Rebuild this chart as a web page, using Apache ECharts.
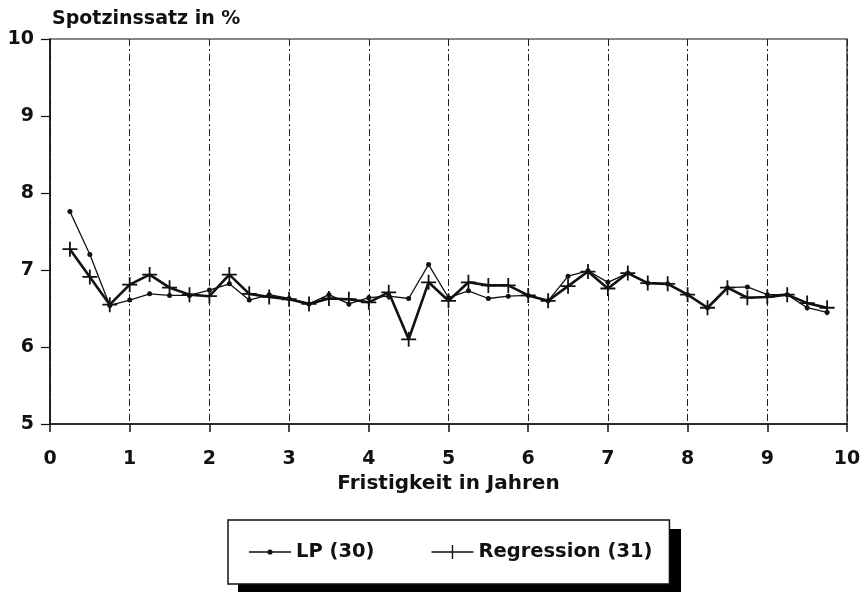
<!DOCTYPE html>
<html>
<head>
<meta charset="utf-8">
<script src="https://cdn.jsdelivr.net/npm/echarts@6/dist/echarts.min.js"></script>
<style>
  html, body { margin: 0; padding: 0; background: #fff; }
  #chart { width: 867px; height: 592px; }
</style>
</head>
<body>
<div id="chart"></div>
<script>
// Fristigkeit in Jahren
var maturities = [0.25, 0.5, 0.75, 1, 1.25, 1.5, 1.75, 2, 2.25, 2.5, 2.75, 3, 3.25,
  3.5, 3.75, 4, 4.25, 4.5, 4.75, 5, 5.25, 5.5, 5.75, 6, 6.25, 6.5, 6.75,
  7, 7.25, 7.5, 7.75, 8, 8.25, 8.5, 8.75, 9, 9.25, 9.5, 9.75];

// Spotzinssatz in %, LP (30)
var lpRates = [7.76, 7.20, 6.54, 6.61, 6.69, 6.67, 6.67, 6.74, 6.82, 6.61, 6.68, 6.63, 6.56,
  6.68, 6.56, 6.64, 6.66, 6.63, 7.07, 6.64, 6.73, 6.63, 6.66, 6.67, 6.60, 6.92, 6.99,
  6.84, 6.96, 6.83, 6.82, 6.68, 6.51, 6.77, 6.78, 6.68, 6.68, 6.51, 6.45];

// Spotzinssatz in %, Regression (31)
var regRates = [7.27, 6.91, 6.55, 6.81, 6.94, 6.77, 6.68, 6.66, 6.94, 6.69, 6.65, 6.62, 6.56,
  6.63, 6.62, 6.58, 6.71, 6.10, 6.84, 6.60, 6.84, 6.80, 6.80, 6.67, 6.60, 6.79, 6.98,
  6.76, 6.96, 6.83, 6.82, 6.68, 6.51, 6.77, 6.64, 6.65, 6.68, 6.57, 6.51];

var seriesNames = ['LP (30)', 'Regression (31)'];

function pairs(xs, ys) {
  return xs.map(function (x, i) { return [x, ys[i]]; });
}

var ink = '#111';
var font = 'DejaVu Sans';
var plusSymbol = 'path://M-0.12,-1H0.12V-0.12H1V0.12H0.12V1H-0.12V0.12H-1V-0.12H-0.12Z';
var lpIcon = 'path://M0,0M42,14M0,6.3H18.6V7.7H0Z M23.4,6.3H42V7.7H23.4Z M23.6,7A2.6,2.6 0 1 1 18.4,7A2.6,2.6 0 1 1 23.6,7Z';
var regIcon = 'path://M0,6.3H20.3V0H21.7V6.3H42V7.7H21.7V14H20.3V7.7H0Z';

var chart = echarts.init(document.getElementById('chart'));
var option = {
  backgroundColor: '#fff',
  animation: false,
  title: {
    text: 'Spotzinssatz in %',
    left: 47,
    top: 5,
    textStyle: { fontFamily: font, fontWeight: 'bold', fontSize: 19, color: ink }
  },
  // drop shadow behind the legend box
  graphic: [{
    type: 'rect',
    left: 238, top: 529,
    shape: { width: 443, height: 63 },
    style: { fill: '#000' },
    z: 0
  }],
  grid: {
    left: 50, right: 20, top: 39, bottom: 168,
    show: true, borderColor: ink, borderWidth: 1.2, backgroundColor: 'transparent'
  },
  legend: {
    left: 228,
    top: 520,
    orient: 'horizontal',
    padding: [22, 17, 22, 21],
    itemWidth: 42,
    itemHeight: 14,
    itemGap: 57,
    backgroundColor: '#fff',
    borderColor: ink,
    borderWidth: 1.5,
    z: 5,
    textStyle: { fontFamily: font, fontWeight: 'bold', fontSize: 19.5, color: ink },
    data: [
      { name: seriesNames[0], icon: lpIcon },
      { name: seriesNames[1], icon: regIcon }
    ]
  },
  xAxis: {
    type: 'value',
    min: 0, max: 10, interval: 1,
    name: 'Fristigkeit in Jahren',
    nameLocation: 'middle',
    nameGap: 48,
    nameTextStyle: { fontFamily: font, fontWeight: 'bold', fontSize: 20, color: ink },
    axisLine: { show: true, lineStyle: { color: ink, width: 1.5 } },
    axisTick: { show: true, length: 8, lineStyle: { color: ink, width: 1.5 } },
    axisLabel: { margin: 26, fontFamily: font, fontWeight: 'bold', fontSize: 19, color: ink },
    splitLine: { show: true, lineStyle: { color: '#222', width: 1, type: [7, 3, 2, 3] } }
  },
  yAxis: {
    type: 'value',
    min: 5, max: 10, interval: 1,
    axisLine: { show: true, lineStyle: { color: ink, width: 1.5 } },
    axisTick: { show: true, length: 9, lineStyle: { color: ink, width: 1.2 } },
    axisLabel: { margin: 16, fontFamily: font, fontWeight: 'bold', fontSize: 19, color: ink },
    splitLine: { show: false }
  },
  series: [
    {
      name: seriesNames[0],
      type: 'line',
      data: pairs(maturities, lpRates),
      symbol: 'circle',
      symbolSize: 5,
      itemStyle: { color: ink, borderWidth: 0 },
      lineStyle: { color: ink, width: 1.3 },
      z: 3
    },
    {
      name: seriesNames[1],
      type: 'line',
      data: pairs(maturities, regRates),
      symbol: plusSymbol,
      symbolSize: 15,
      itemStyle: { color: ink, borderWidth: 0 },
      lineStyle: { color: ink, width: 2.6 },
      z: 4
    }
  ]
};
chart.setOption(option);
</script>
</body>
</html>
